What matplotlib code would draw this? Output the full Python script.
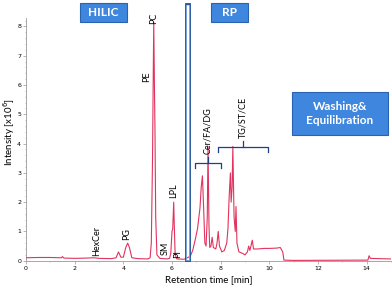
import numpy as np
import matplotlib.pyplot as plt
from matplotlib.patches import Rectangle, FancyBboxPatch

# chromatogram (retention time [min], intensity [x10^6])
rt = [0.0, 0.5, 1.0, 1.45, 1.5, 1.55, 2.0, 2.5, 2.8, 3.0, 3.5, 3.7, 3.8, 3.9,
      4.0, 4.1, 4.18, 4.25, 4.35, 4.6, 5.0, 5.1, 5.15, 5.2, 5.22, 5.25, 5.28,
      5.3, 5.33, 5.38, 5.5, 5.8, 5.9, 5.95, 6.0, 6.03, 6.07, 6.1, 6.13, 6.2,
      6.5, 6.75, 6.85, 6.95, 7.05, 7.15, 7.2, 7.25, 7.3, 7.35, 7.4, 7.45, 7.48,
      7.52, 7.55, 7.6, 7.65, 7.7, 7.8, 7.85, 7.9, 7.95, 8.05, 8.15, 8.25, 8.3,
      8.35, 8.4, 8.43, 8.47, 8.5, 8.55, 8.6, 8.63, 8.67, 8.75, 8.9, 9.0, 9.1,
      9.15, 9.2, 9.3, 9.35, 9.5, 9.8, 10.0, 10.3, 10.45, 10.55, 10.6, 11.0,
      14.05, 14.1, 14.15, 14.5, 15.0]
intensity = [0.10, 0.11, 0.11, 0.10, 0.14, 0.09, 0.08, 0.09, 0.10, 0.08, 0.07,
             0.10, 0.30, 0.12, 0.12, 0.45, 0.60, 0.45, 0.10, 0.07, 0.06, 0.10,
             0.6, 3.5, 5.5, 8.15, 5.8, 4.5, 1.5, 0.2, 0.08, 0.06, 0.08, 0.25,
             1.0, 1.1, 2.0, 1.0, 0.2, 0.06, 0.05, 0.15, 0.35, 0.7, 1.1, 1.8,
             2.5, 2.9, 1.8, 0.6, 0.5, 1.5, 3.9, 1.2, 0.45, 0.5, 0.8, 0.45, 0.4,
             0.6, 1.0, 0.5, 0.3, 0.35, 0.6, 1.1, 2.2, 3.0, 2.0, 2.5, 3.9, 1.5,
             1.0, 1.85, 0.6, 0.3, 0.25, 0.2, 0.3, 0.5, 0.35, 0.7, 0.4, 0.4,
             0.42, 0.42, 0.43, 0.45, 0.3, 0.02, 0.01, 0.02, 0.17, 0.08, 0.07,
             0.06]

# peak labels: text, x, y (data)
peak_labels = ["HexCer", "PG", "PE", "PC", "SM", "PI", "LPL"]
label_x = [2.91, 4.12, 4.97, 5.25, 5.74, 6.22, 6.05]
label_y = [0.15, 0.7, 6.1, 8.1, 0.2, 0.08, 2.15]

# bracket groups: label, start, end, height
groups = ["Cer/FA/DG", "TG/ST/CE"]
group_start = [6.93, 7.87]
group_end = [8.02, 9.93]
group_y = [3.35, 3.9]

line_color = '#e2335e'
box_color = '#3f86df'
font = 'Lato'

fig = plt.figure(figsize=(3.92, 2.89), dpi=100)
ax = fig.add_axes([26/392, 1-260.7/289, 365/392, 243/289])
ax.plot(rt, intensity, color=line_color, lw=0.8, zorder=3)

ax.set_xlim(0, 15)
ax.set_ylim(0, 8.3)
ax.set_xticks(range(0, 16, 2))
ax.set_yticks(range(0, 9))
ax.set_xticks(range(0, 16), minor=True)
ax.set_yticks(np.arange(0, 8.3, 0.2), minor=True)
for s in ['top', 'right']:
    ax.spines[s].set_visible(False)
for s in ['left', 'bottom']:
    ax.spines[s].set_color('#999999')
    ax.spines[s].set_linewidth(0.6)
ax.tick_params(labelsize=4.5, length=2, width=0.5, color='#999999', pad=1.5)
ax.tick_params(which='minor', length=1, width=0.4, color='#999999')
ax.set_xlabel('Retention time [min]', fontsize=7, family=font, labelpad=3)
ax.set_ylabel('Intensity [x10$^6$]', fontsize=7, family=font)
ax.yaxis.set_label_coords(-0.024, 0.53)

for t, x, y in zip(peak_labels, label_x, label_y):
    ax.text(x, y, t, rotation=90, fontsize=6.5, family=font,
            ha='center', va='bottom', zorder=5)

for g, x0, x1, y in zip(groups, group_start, group_end, group_y):
    d = 0.18
    ax.plot([x0, x0, x1, x1], [y - d, y, y, y - d], color='#1d3f8a', lw=0.9, zorder=5)
    xm = (x0 + x1) / 2
    ax.plot([xm, xm], [y, y + 0.2], color='#1d3f8a', lw=0.9, zorder=5)
    ax.text(xm, y + 0.28, g, rotation=90, fontsize=6.5, family=font,
            ha='center', va='bottom', zorder=5)

# separator between HILIC and RP
ax.add_patch(Rectangle((6.56, 0), 0.17, 8.78, fill=False, ec='#1a4f9e',
                       lw=1.3, clip_on=False, zorder=6))
ax.add_patch(Rectangle((6.585, 0.03), 0.12, 8.72, fill=False, ec='#9cc3ee',
                       lw=0.5, clip_on=False, zorder=6))

def label_box(x0, y0, x1, y1, text, size):
    p = FancyBboxPatch((x0/392, 1-y1/289), (x1-x0)/392, (y1-y0)/289,
                       boxstyle='square,pad=0', transform=fig.transFigure,
                       fc=box_color, ec='#2a62b0', lw=0.8)
    fig.patches.append(p)
    fig.text((x0+x1)/2/392, 1-(y0+y1)/2/289, text, color='white',
             fontsize=size, weight='bold', family=font, ha='center',
             va='center', linespacing=1.3)

label_box(80, 3, 127, 22, 'HILIC', 8.5)
label_box(211, 3, 248, 22, 'RP', 8.5)
label_box(292, 92, 388, 135, 'Washing&\nEquilibration', 8.5)

fig.savefig('out.png', dpi=100)
